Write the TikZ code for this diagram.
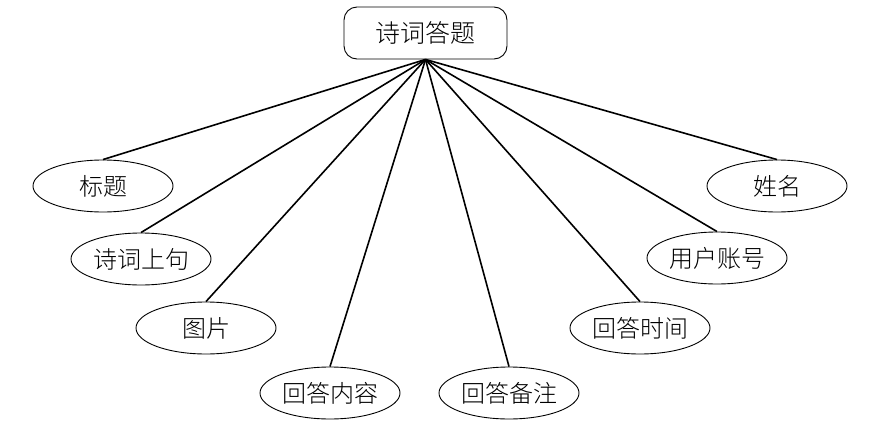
\documentclass[tikz,border=0pt]{standalone}
\usepackage{fontspec}
\setmainfont{Noto Sans CJK SC Light}
\usetikzlibrary{shapes.geometric}
\tikzset{
  attr/.style={draw=black, line width=0.9pt, ellipse, minimum width=140pt, minimum height=52pt, inner sep=0pt, font=\fontsize{24}{26}\selectfont},
  entity/.style={draw=black, line width=0.9pt, rounded corners=13pt, minimum width=163pt, minimum height=52pt, inner sep=0pt, font=\fontsize{25}{27}\selectfont},
  link/.style={line width=1.6pt, black}
}
\begin{document}
\begin{tikzpicture}[x=1pt,y=-1pt]
\useasboundingbox (0,0) rectangle (884,434);
\node[entity] (e) at (425.5,33) {诗词答题};
\node[attr] (a1) at (103,186) {标题};
\node[attr] (a2) at (141,259) {诗词上句};
\node[attr] (a3) at (206,328) {图片};
\node[attr] (a4) at (330,393) {回答内容};
\node[attr] (a5) at (509,393) {回答备注};
\node[attr] (a6) at (640,328) {回答时间};
\node[attr] (a7) at (717,258) {用户账号};
\node[attr] (a8) at (777,186) {姓名};
\foreach \n in {a1,a2,a3,a4,a5,a6,a7,a8}{
  \draw[link] (e.south) -- (\n.north);
}
\end{tikzpicture}
\end{document}
